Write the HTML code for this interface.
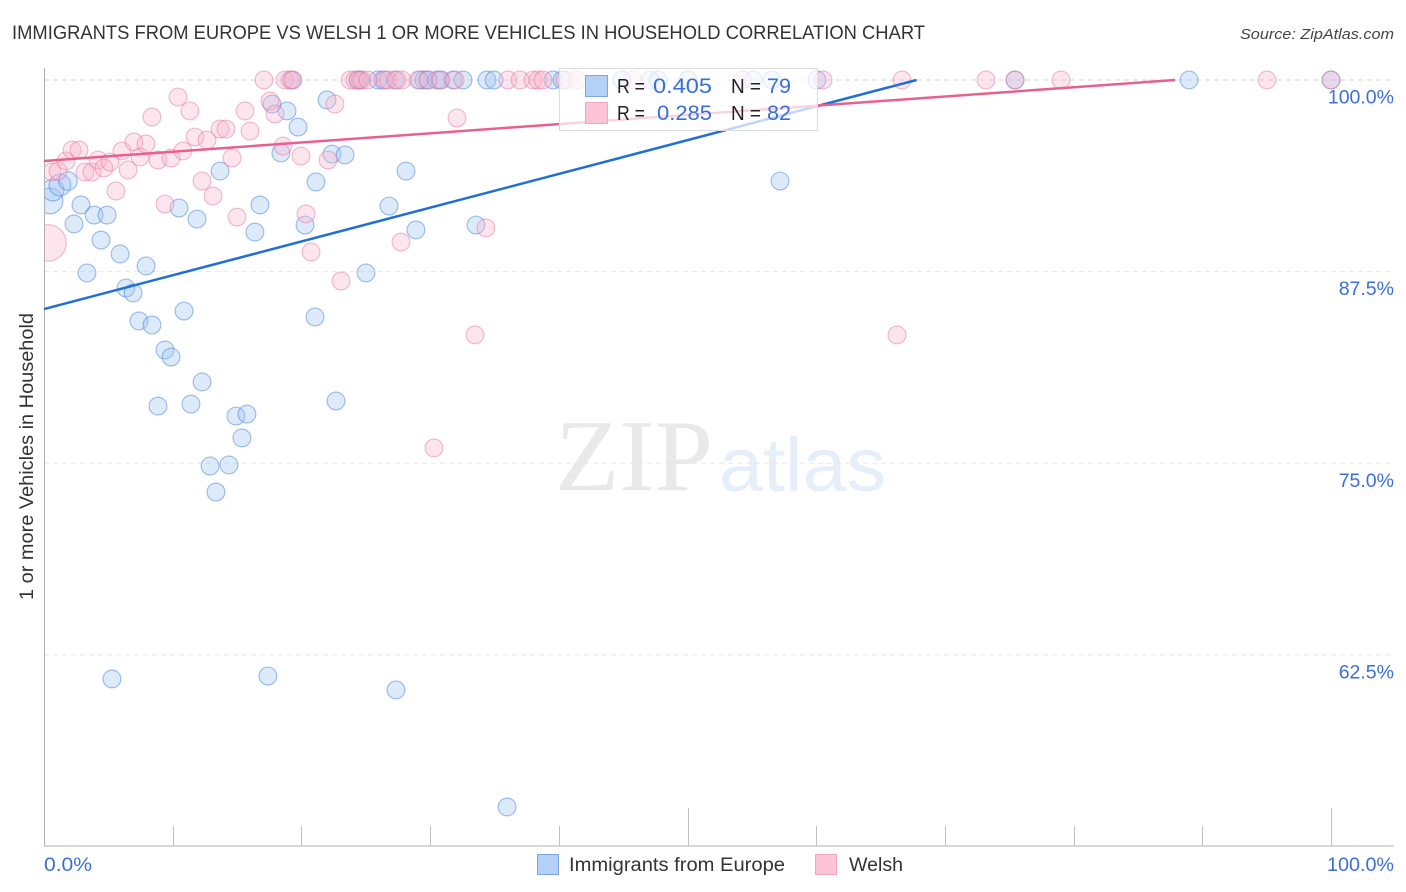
<!DOCTYPE html>
<html lang="en">
<head>
<meta charset="utf-8">
<title>Immigrants from Europe vs Welsh correlation chart</title>
<style>
html,body{margin:0;padding:0;background:#fff;}
svg{display:block;font-family:"Liberation Sans",sans-serif;}
</style>
</head>
<body>
<svg id="chart" xmlns="http://www.w3.org/2000/svg" width="1406" height="892" viewBox="0 0 1406 892">
  <defs><clipPath id="plot-clip"><rect x="45" y="60" width="1349" height="786"/></clipPath></defs>
  <text x="12" y="39" font-size="19" fill="#333" textLength="913" lengthAdjust="spacingAndGlyphs">IMMIGRANTS FROM EUROPE VS WELSH 1 OR MORE VEHICLES IN HOUSEHOLD CORRELATION CHART</text>
  <text x="1240" y="39" font-size="15" font-style="italic" fill="#444" textLength="154" lengthAdjust="spacingAndGlyphs">Source: ZipAtlas.com</text>
  <g>
    <text x="555" y="490" font-family="'Liberation Serif',serif" font-size="102" fill="#e9e9e9" textLength="158" lengthAdjust="spacingAndGlyphs">ZIP</text>
    <text x="719" y="491" font-size="76" fill="#e6eef9" textLength="167" lengthAdjust="spacingAndGlyphs">atlas</text>
  </g>
  <g id="grid"></g>
  <g id="axes"></g>
  <g id="marks" clip-path="url(#plot-clip)"></g>
  <g id="trends"></g>
  <text transform="translate(33,600) rotate(-90)" font-size="19" fill="#333" textLength="287" lengthAdjust="spacingAndGlyphs">1 or more Vehicles in Household</text>
  <g>
    <rect x="559.5" y="68.5" width="258" height="62" fill="#fff" fill-opacity="0.72" stroke="#dcdcdc"/>
    <rect x="585.5" y="75.5" width="22" height="21" fill="#b5d0f5" stroke="#7ba5e6"/>
    <rect x="585.5" y="102.5" width="22" height="21" fill="#fcc4d6" stroke="#f3a6c0"/>
    <g font-size="20" fill="#222">
      <text x="617" y="93" textLength="28" lengthAdjust="spacingAndGlyphs">R =</text>
      <text x="731" y="93" textLength="30" lengthAdjust="spacingAndGlyphs">N =</text>
      <text x="617" y="120" textLength="28" lengthAdjust="spacingAndGlyphs">R =</text>
      <text x="731" y="120" textLength="30" lengthAdjust="spacingAndGlyphs">N =</text>
    </g>
    <g font-size="21" fill="#3a6fd8">
      <text x="653" y="93" textLength="59" lengthAdjust="spacingAndGlyphs">0.405</text>
      <text x="767" y="93" textLength="24" lengthAdjust="spacingAndGlyphs">79</text>
      <text x="657" y="120" textLength="55" lengthAdjust="spacingAndGlyphs">0.285</text>
      <text x="767" y="120" textLength="24" lengthAdjust="spacingAndGlyphs">82</text>
    </g>
  </g>
  <g id="y-labels"></g>
  <text x="44" y="871" font-size="19" fill="#3a6fd8" textLength="48" lengthAdjust="spacingAndGlyphs">0.0%</text>
  <text x="1327" y="871" font-size="19" fill="#3a6fd8" textLength="67" lengthAdjust="spacingAndGlyphs">100.0%</text>
  <g>
    <rect x="537.5" y="854.5" width="21" height="20" fill="#b5d0f5" stroke="#7ba5e6"/>
    <text x="569" y="871" font-size="19" fill="#333" textLength="216" lengthAdjust="spacingAndGlyphs">Immigrants from Europe</text>
    <rect x="815.5" y="854.5" width="21" height="20" fill="#fcc4d6" stroke="#f3a6c0"/>
    <text x="849" y="871" font-size="19" fill="#333" textLength="54" lengthAdjust="spacingAndGlyphs">Welsh</text>
  </g>
</svg>
<script>
const xTickValues = [0,10,20,30,40,50,60,70,80,90,100];
const majorXTicks = [50,100];
const yTickValues = [100,87.5,75,62.5];
const yTickLabels = ["100.0%","87.5%","75.0%","62.5%"];

const immigrantsX = [0.47,0.70,1.24,1.86,2.33,2.87,3.34,3.89,4.43,4.90,5.28,5.91,6.37,6.92,7.38,7.93,8.39,9.40,9.87,8.86,10.88,10.49,11.42,11.89,12.28,12.90,13.36,13.68,14.37,14.92,15.38,15.77,16.39,16.78,17.40,17.72,18.41,18.88,19.74,20.28,21.06,21.13,21.99,22.38,22.69,23.39,25.02,26.81,27.35,28.13,28.90,33.57,35.98,57.19,19.27,24.40,24.55,25.95,26.34,27.27,29.21,29.53,29.84,30.54,30.85,31.78,32.56,34.42,34.97,39.56,40.25,44.91,47.09,47.72,50.04,55.09,56.57,60.06,75.45,88.97,100];
const immigrantsY = [92.11,92.82,93.15,93.41,90.61,91.85,87.41,91.19,89.56,91.19,60.93,88.65,86.43,86.11,84.28,87.87,84.02,82.39,81.93,78.73,84.93,91.65,78.86,90.93,80.30,74.82,73.12,94.06,74.89,78.08,76.65,78.21,90.08,91.85,61.12,98.43,95.24,97.98,96.93,90.54,84.54,93.35,98.70,95.17,79.06,95.11,87.41,91.78,60.21,94.06,90.22,90.54,52.58,93.41,100,100,100,100,100,100,100,100,100,100,100,100,100,100,100,100,100,100,100,100,100,100,100,100,100,100,100];
const immigrantsWeight = [2.1,1.5,1.5,1.1];

const welshX = [0.31,0.62,1.09,1.71,2.18,2.72,3.19,3.73,4.20,4.66,5.13,5.59,6.06,6.53,6.99,7.46,7.93,8.39,8.86,9.40,9.87,10.41,10.80,11.34,11.73,12.28,12.67,13.13,13.68,14.14,14.61,15.00,15.62,16.01,17.56,17.95,18.57,19.97,20.36,20.75,22.07,22.61,23.08,27.74,32.09,33.49,30.30,34.34,66.28,17.09,18.73,19.11,19.35,23.78,24.17,24.40,24.71,25.17,26.50,26.73,27.43,27.82,29.06,29.84,30.77,31.94,36.05,36.99,38.00,38.38,38.77,40.48,41.41,45.77,54.24,60.53,66.67,73.19,75.45,79.02,95.03,100];
const welshY = [89.37,94.00,94.06,94.72,95.43,95.43,94.00,94.00,94.78,94.26,94.65,92.76,95.37,94.13,95.96,94.98,95.83,97.59,94.78,91.91,94.91,98.89,95.37,97.98,96.28,93.41,96.09,92.43,96.80,96.80,94.91,91.06,97.98,96.67,98.63,97.78,95.69,95.04,91.26,88.78,94.78,98.43,86.89,89.43,97.52,83.37,76.00,90.35,83.37,100,100,100,100,100,100,100,100,100,100,100,100,100,100,100,100,100,100,100,100,100,100,100,100,100,100,100,100,100,100,100,100,100];
const welshWeight = [4.2];

const immigrantsTrendX = [0,67.8];
const immigrantsTrendY = [85.06,100];
const welshTrendX = [0,87.9];
const welshTrendY = [94.72,100];

const NS = "http://www.w3.org/2000/svg";
const xScale = v => 44 + v * 12.87;
const yScale = v => 80 + (100 - v) * 15.33;
const radius = w => 8.9 * Math.sqrt(w || 1);
const make = (tag, parent) => { const el = document.createElementNS(NS, tag); parent.appendChild(el); return el; };

const grid = document.getElementById("grid");
yTickValues.forEach((v, i) => {
  const line = make("line", grid);
  
  
  line.setAttribute("x1", 44);
  line.setAttribute("x2", 1394);
  line.setAttribute("y1", yScale(v));
  line.setAttribute("y2", yScale(v));
  line.setAttribute("stroke", i === 0 ? "#d6d6d6" : "#e8e8e8");
  line.setAttribute("stroke-dasharray", "5 4");
});

const axes = document.getElementById("axes");
const yAxis = make("line", axes);


yAxis.setAttribute("x1", 44.5);
yAxis.setAttribute("x2", 44.5);
yAxis.setAttribute("y1", 68);
yAxis.setAttribute("y2", 846);
yAxis.setAttribute("stroke", "#b0b0b0");
const xAxis = make("line", axes);


xAxis.setAttribute("x1", 44);
xAxis.setAttribute("x2", 1394);
xAxis.setAttribute("y1", 846);
xAxis.setAttribute("y2", 846);
xAxis.setAttribute("stroke", "#b0b0b0");
xTickValues.forEach(v => {
  if (v === 0) return;
  const tick = make("line", axes);
  
  
  tick.setAttribute("x1", Math.round(xScale(v)) + 0.5);
  tick.setAttribute("x2", Math.round(xScale(v)) + 0.5);
  tick.setAttribute("y1", majorXTicks.includes(v) ? 808 : 826);
  tick.setAttribute("y2", 846);
  tick.setAttribute("stroke", "#c0c0c0");
});

const marks = document.getElementById("marks");
function drawSeries(xs, ys, weights, fill, stroke, name) {
  xs.forEach((x, i) => {
    const c = make("circle", marks);
    
    
    c.setAttribute("cx", xScale(x));
    c.setAttribute("cy", yScale(ys[i]));
    c.setAttribute("r", radius(weights[i]));
    c.setAttribute("fill", fill);
    c.setAttribute("fill-opacity", "0.34");
    c.setAttribute("stroke", stroke);
    c.setAttribute("stroke-opacity", "0.5");
    c.setAttribute("stroke-width", "1.1");
  });
}
drawSeries(immigrantsX, immigrantsY, immigrantsWeight, "#9cc2f0", "#3b7ddd", "point-immigrants");
drawSeries(welshX, welshY, welshWeight, "#f9b4cb", "#e8739b", "point-welsh");

const trends = document.getElementById("trends");
function drawTrend(xs, ys, color, name) {
  const l = make("line", trends);
  
  
  l.setAttribute("x1", xScale(xs[0]));
  l.setAttribute("y1", yScale(ys[0]));
  l.setAttribute("x2", xScale(xs[1]));
  l.setAttribute("y2", yScale(ys[1]));
  l.setAttribute("stroke", color);
  l.setAttribute("stroke-width", "2.5");
}
drawTrend(immigrantsTrendX, immigrantsTrendY, "#1f6fd6", "trend-line-immigrants");
drawTrend(welshTrendX, welshTrendY, "#e8608f", "trend-line-welsh");

const yLabels = document.getElementById("y-labels");
yTickValues.forEach((v, i) => {
  const t = make("text", yLabels);
  
  
  t.setAttribute("x", 1394);
  t.setAttribute("y", yScale(v) + 23.5);
  t.setAttribute("text-anchor", "end");
  t.setAttribute("font-size", "19.5");
  t.setAttribute("fill", "#3a6fd8");
  t.textContent = yTickLabels[i];
});
</script>
</body>
</html>
